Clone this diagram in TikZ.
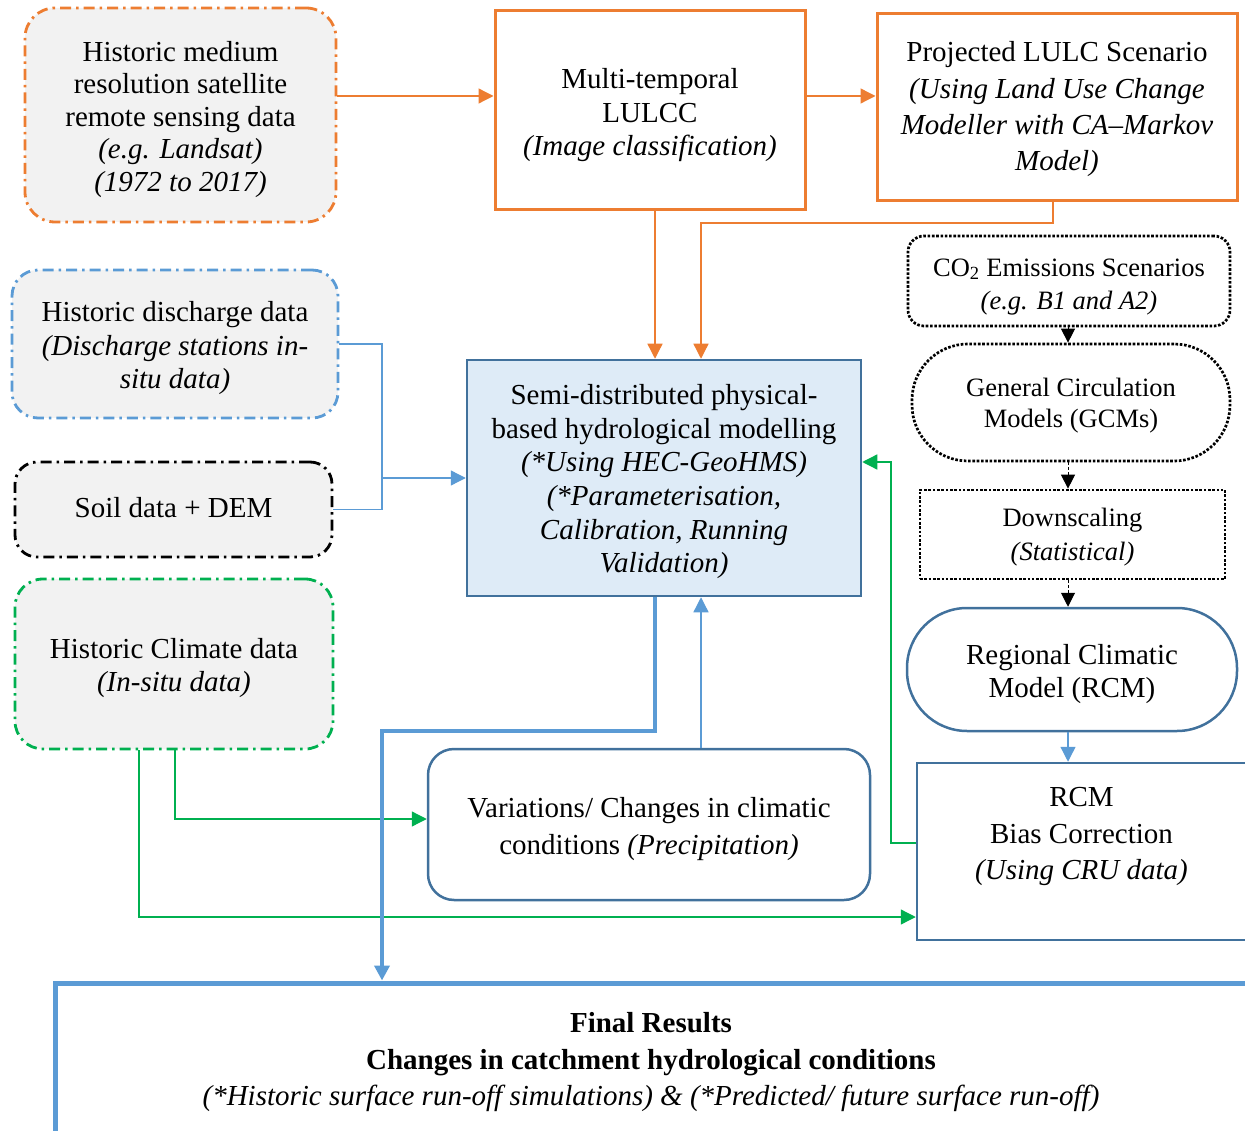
\documentclass[tikz,border=0pt]{standalone}
\usepackage{fontspec}
\setmainfont{Liberation Serif}
\usetikzlibrary{arrows.meta}

\definecolor{cOrange}{HTML}{ED7D31}
\definecolor{cBlue}{HTML}{5B9BD5}
\definecolor{cSteel}{HTML}{41719C}
\definecolor{cGreen}{HTML}{00B050}
\definecolor{cGrey}{HTML}{F2F2F2}
\definecolor{cPale}{HTML}{DEEBF7}

% font size / line spacing
\newcommand\fs[2]{\fontsize{#1}{#2}\selectfont}
% centred block of lines, moved down by #1 without changing its size
\newcommand\tx[2]{\raisebox{-#1}[\height][\depth]{\begin{tabular}{@{}c@{}}#2\end{tabular}}}

\begin{document}
\begin{tikzpicture}[x=1pt,y=-1pt,
  every node/.style={inner sep=0pt, align=center, font=\fs{29}{33.5}},
  sz/.style 2 args={minimum width=#1pt, minimum height=#2pt},
  dashdot/.style={line width=2.8pt, dash pattern=on 11pt off 5pt on 2.5pt off 5pt},
  dotbox/.style={line width=2.7pt, dash pattern=on 2.6pt off 1.7pt},
  srcbox/.style={dashdot, fill=cGrey},
  obox/.style={draw=cOrange, line width=3pt},
  sbox/.style={draw=cSteel, line width=2.5pt},
  tip/.style={-{Triangle[length=15pt,width=15pt]}},
  oarrow/.style={tip, draw=cOrange, line width=1.3pt},
  bline/.style={draw=cBlue, line width=1.3pt},
  barrow/.style={tip, bline},
  thickb/.style={-{Triangle[length=15pt,width=15pt]}, draw=cBlue, line width=3.8pt},
  garrow/.style={tip, draw=cGreen, line width=1.3pt},
  karrow/.style={-{Triangle[length=14pt,width=14pt]}, draw=black,
                 line width=1pt, dash pattern=on 3pt off 2pt}
]
\useasboundingbox (0,0) rectangle (1245,1131);
\clip (0,0) rectangle (1245,1131);

% ---------- source data ----------
\node[srcbox, draw=cOrange, rounded corners=30pt, sz={311}{214}, font=\fs{29}{32.5}] (sat) at (180.5,115)
  {\tx{5pt}{Historic medium\\ resolution satellite\\ remote sensing data\\
   \textit{(e.g. Landsat)}\\ \textit{(1972 to 2017)}}};

\node[srcbox, draw=cBlue, rounded corners=26pt, sz={326}{148}] (disc) at (175,344)
  {\tx{4.5pt}{Historic discharge data\\ \textit{(Discharge stations in-}\\ \textit{situ data)}}};

\node[srcbox, draw=black, rounded corners=22pt, sz={317}{95}] (soil) at (173.5,509.5)
  {\tx{1pt}{Soil data + DEM}};

\node[srcbox, draw=cGreen, rounded corners=28pt, sz={318}{170}] (clim) at (174,664)
  {\tx{4.5pt}{Historic Climate data\\ \textit{(In-situ data)}}};

% ---------- land use branch ----------
\node[obox, sz={310}{199}] (multi) at (650,110.5)
  {\tx{5pt}{Multi-temporal\\ LULCC\\ \textit{(Image classification)}}};

\node[obox, sz={360}{187}, font=\fs{29}{36.3}] (proj) at (1057,107.5)
  {\tx{1.5pt}{Projected LULC Scenario\\ \textit{(Using Land Use Change}\\
   \textit{Modeller with CA–Markov}\\ \textit{Model)}}};

% ---------- hydrological model ----------
\node[sbox, fill=cPale, sz={394}{236}, font=\fs{29}{33.6}] (semi) at (664,478)
  {\tx{4pt}{Semi-distributed physical-\\ based hydrological modelling\\
   \textit{(*Using HEC-GeoHMS)}\\ \textit{(*Parameterisation,}\\
   \textit{Calibration, Running}\\ \textit{Validation)}}};

\node[sbox, rounded corners=26pt, sz={442}{151}, font=\fs{29}{37}] (var) at (649,824.5)
  {\tx{4pt}{Variations/ Changes in climatic\\ conditions \textit{(Precipitation)}}};

% ---------- climate branch ----------
\node[dotbox, draw=black, rounded corners=16pt, sz={322}{90}, font=\fs{26.5}{33}] (co2) at (1069,281)
  {\tx{5pt}{CO\textsubscript{2} Emissions Scenarios\\ \textit{(e.g. B1 and A2)}}};

\node[dotbox, draw=black, rounded corners=56pt, sz={318}{117}, font=\fs{26.5}{31}] (gcm) at (1071,402.5)
  {\tx{3pt}{General Circulation\\ Models (GCMs)}};

\node[dotbox, draw=black, sz={305}{89}, font=\fs{26.5}{34}] (down) at (1072.5,534.5)
  {\tx{2.5pt}{Downscaling\\ \textit{(Statistical)}}};

\node[sbox, rounded corners=60pt, sz={330}{123}] (rcm) at (1072,669.5)
  {\tx{5pt}{Regional Climatic\\ Model (RCM)}};

\node[sbox, sz={329}{177}, font=\fs{29}{36.5}] (bias) at (1081.5,851.5)
  {\tx{-15.5pt}{RCM\\ Bias Correction\\ \textit{(Using CRU data)}}};

% ---------- results ----------
\node[draw=cBlue, line width=5pt, sz={1192}{150}, font=\fs{29}{36.5}] (final) at (651,1058)
  {\tx{4pt}{\textbf{Final Results}\\ \textbf{Changes in catchment hydrological conditions}\\
   \textit{(*Historic surface run-off simulations) \& (*Predicted/ future surface run-off)}}};

% ---------- routing points ----------
\coordinate (r1) at (0,96);
\coordinate (c655) at (655,0);
\coordinate (c701) at (701,0);
\coordinate (k1) at (1053,223);
\coordinate (k2) at (701,223);
\coordinate (j) at (382,478);
\coordinate (t1) at (655,731);
\coordinate (t2) at (382,731);
\coordinate (g1) at (175,819);
\coordinate (g2) at (139,917);
\coordinate (g3) at (891,843);
\coordinate (g4) at (891,462);
\coordinate (rc) at (1068,0);

% ---------- land use connectors ----------
\draw[oarrow] (sat.east |- r1) -- (multi.west |- r1);
\draw[oarrow] (multi.east |- r1) -- (proj.west |- r1);
\draw[oarrow] (multi.south -| c655) -- (semi.north -| c655);
\draw[oarrow] (proj.south -| k1) -- (k1) -- (k2) -- (semi.north -| k2);

% ---------- climate chain ----------
\draw[karrow] (co2.south -| rc) -- (gcm.north -| rc);
\draw[karrow] (gcm.south -| rc) -- (down.north -| rc);
\draw[karrow] (down.south -| rc) -- (rcm.north -| rc);
\draw[barrow] (rcm.south -| rc) -- (bias.north -| rc);

% ---------- inputs to the model ----------
\draw[bline] (disc.east) -| (j) |- (soil.east);
\draw[barrow] (j) -- (semi.west);
\draw[barrow] (var.north -| c701) -- (semi.south -| c701);

\draw[garrow] (clim.south -| g1) -- (g1) -- (var.west |- g1);
\draw[garrow] (clim.south -| g2) -- (g2) -- (bias.west |- g2);
\draw[garrow] (bias.west |- g3) -- (g3) -- (g4) -- (semi.east |- g4);

% ---------- model output ----------
\draw[thickb] (semi.south -| t1) -- (t1) -- (t2) -- (final.north -| t2);
\end{tikzpicture}
\end{document}
